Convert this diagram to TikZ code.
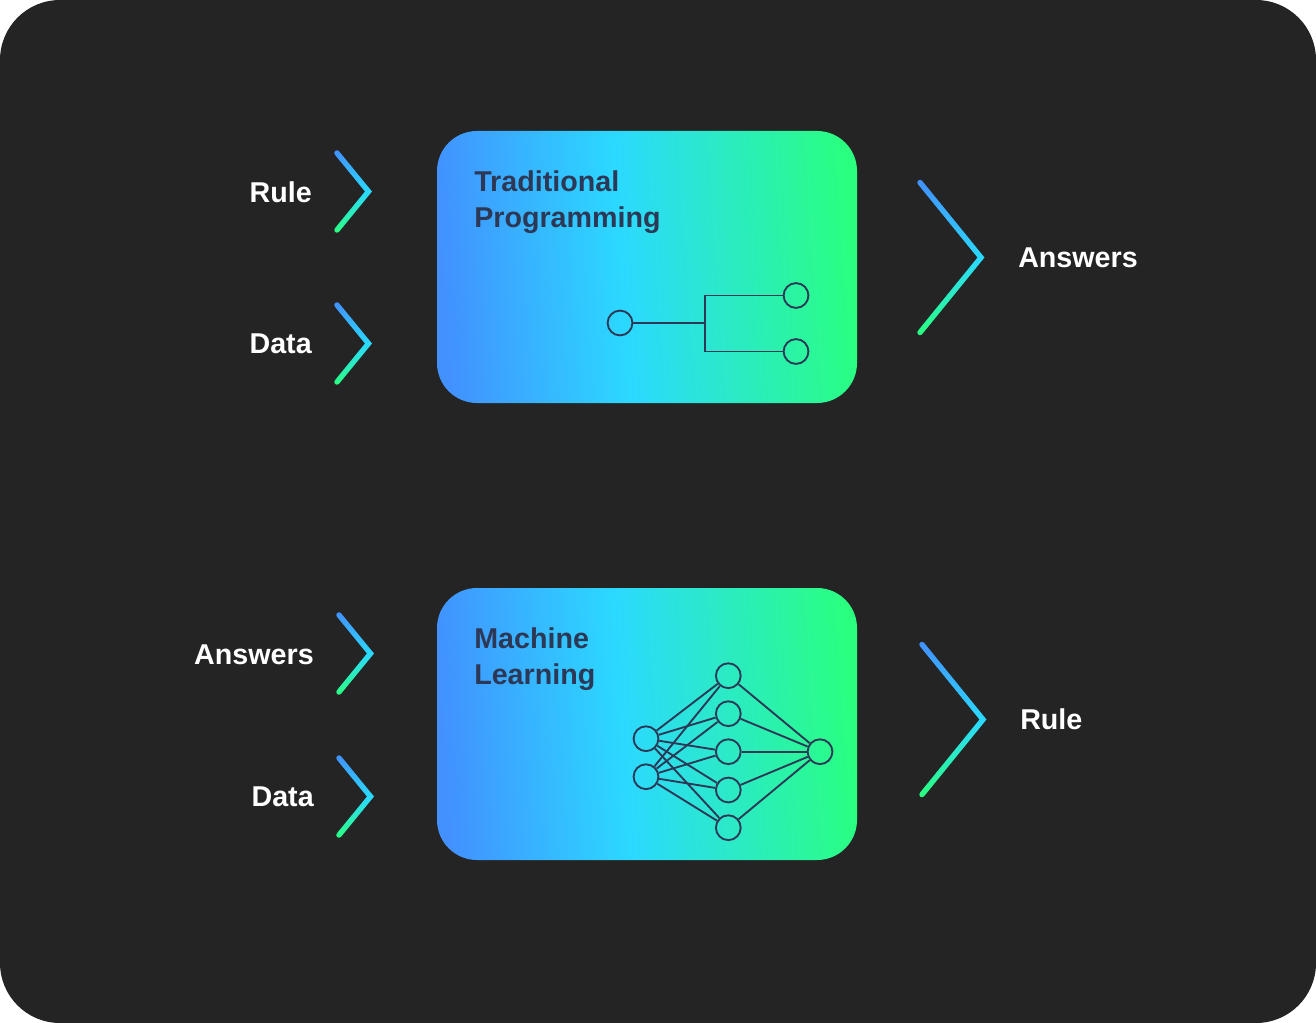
\documentclass[tikz,border=0pt]{standalone}
\usepackage{fontspec}
\setmainfont{Liberation Sans}
\definecolor{panelbg}{HTML}{242424}
\definecolor{inkdark}{HTML}{2D3856}
\definecolor{boxa}{HTML}{4291FF}
\definecolor{boxb}{HTML}{2BD9FF}
\definecolor{boxc}{HTML}{2AFF80}
\pgfdeclarehorizontalshading{boxgrad}{100bp}{
  color(0bp)=(boxa); color(25bp)=(boxa); color(47bp)=(boxb); color(75bp)=(boxc); color(100bp)=(boxc)}
\pgfdeclareverticalshading{chevgrad}{100bp}{
  color(0bp)=(boxc); color(26bp)=(boxc); color(50bp)=(boxb); color(74bp)=(boxa); color(100bp)=(boxa)}
\tikzset{
  px/.style={x=0.75pt, y=-0.75pt},
  card/.style={rounded corners=30, shading=boxgrad, shading angle=4},
  cardtitle/.style={font=\fontsize{21.5}{27}\selectfont\bfseries, text=inkdark, align=left, anchor=north west, inner sep=0pt},
  label/.style={font=\fontsize{21.5}{27}\selectfont\bfseries, text=white, inner sep=0pt},
  net/.style={circle, draw=inkdark, line width=1.4pt, minimum size=18.6pt, inner sep=0pt},
  wire/.style={draw=inkdark, line width=1.4pt},
}
% #1 x of tips, #2 y of apex, #3 width, #4 half height
\newcommand\chevron[4]{
  \pgfmathsetmacro\L{sqrt(#3*#3+#4*#4)}
  \pgfmathsetmacro\nx{2.7*#4/\L}
  \pgfmathsetmacro\ny{2.7*#3/\L}
  \pgfmathsetmacro\ux{3.6*#3/\L}
  \pgfmathsetmacro\uy{3.6*#4/\L}
  \pgfmathsetmacro\hx{2.7*\L/#4}
  \shade[shading=chevgrad]
    (#1+\nx, #2-#4-\ny) -- (#1+#3+\hx, #2) -- (#1+\nx, #2+#4+\ny)
    .. controls (#1+\nx-\ux, #2+#4+\ny+\uy) and (#1-\nx-\ux, #2+#4-\ny+\uy) .. (#1-\nx, #2+#4-\ny)
    -- (#1+#3-\hx, #2) -- (#1-\nx, #2-#4+\ny)
    .. controls (#1-\nx-\ux, #2-#4+\ny-\uy) and (#1+\nx-\ux, #2-#4-\ny-\uy) .. cycle;
}
\begin{document}
\begin{tikzpicture}[px]
  \useasboundingbox (0,0) rectangle (1316,1023);

  \fill[panelbg, rounded corners=45] (0,0) rectangle (1316,1023);

  % top card
  \shade[card] (437,131) rectangle (857,403);
  \node[cardtitle] (tptitle) at (474,170) {Traditional\\Programming};

  \node[net] (tpin) at (620,323) {};
  \node[net] (tpa) at (796,295.5) {};
  \node[net] (tpb) at (796,351.5) {};
  \coordinate (tpfork) at (705,323);
  \draw[wire] (tpin) -- (tpfork);
  \draw[wire] (tpa) -- (tpfork |- tpa) -- (tpfork |- tpb) -- (tpb);

  % bottom card
  \shade[card] (437,588) rectangle (857,860);
  \node[cardtitle] (mltitle) at (474,627) {Machine\\Learning};

  \foreach \n/\y in {a/738.7, b/776.7}
    \node[net] (in\n) at (646,\y) {};
  \foreach \n/\y in {a/675.7, b/713.7, c/751.7, d/790, e/827.7}
    \node[net] (mid\n) at (728.3,\y) {};
  \node[net] (out) at (820,751.7) {};

  \foreach \a in {a,b}
    \foreach \b in {a,b,c,d,e}
      \draw[wire] (in\a) -- (mid\b);
  \foreach \b in {a,b,c,d,e}
    \draw[wire] (mid\b) -- (out);

  % chevrons
  \chevron{337}{191.5}{31.5}{38.5}
  \chevron{337}{343.5}{31.5}{38.5}
  \chevron{920}{257.5}{61}{75}
  \chevron{339}{653.5}{31.5}{38.5}
  \chevron{339}{796.5}{31.5}{38.5}
  \chevron{922}{719.5}{61}{75}

  % labels
  \node[label, anchor=east] (rulein) at (312,192) {Rule};
  \node[label, anchor=east] (datain) at (312,344) {Data};
  \node[label, anchor=west] (ansout) at (1018,257.5) {Answers};
  \node[label, anchor=east] (ansin) at (314,654.5) {Answers};
  \node[label, anchor=east] (datamlin) at (314,797) {Data};
  \node[label, anchor=west] (ruleout) at (1020,719) {Rule};
\end{tikzpicture}
\end{document}
